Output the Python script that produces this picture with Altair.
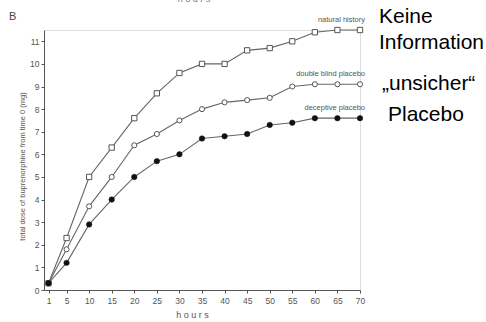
import altair as alt
import pandas as pd

hours = [1, 5, 10, 15, 20, 25, 30, 35, 40, 45, 50, 55, 60, 65, 70]
natural_history = [0.3, 2.3, 5.0, 6.3, 7.6, 8.7, 9.6, 10.0, 10.0, 10.6, 10.7, 11.0, 11.4, 11.5, 11.5]
double_blind = [0.3, 1.8, 3.7, 5.0, 6.4, 6.9, 7.5, 8.0, 8.3, 8.4, 8.5, 9.0, 9.1, 9.1, 9.1]
deceptive = [0.3, 1.2, 2.9, 4.0, 5.0, 5.7, 6.0, 6.7, 6.8, 6.9, 7.3, 7.4, 7.6, 7.6, 7.6]
series_names = ["natural history", "double blind placebo", "deceptive placebo"]
x_ticks = [1, 5, 10, 15, 20, 25, 30, 35, 40, 45, 50, 55, 60, 65, 70]
y_ticks = list(range(0, 12))

rows = []
for name, vals in zip(series_names, [natural_history, double_blind, deceptive]):
    for h, v in zip(hours, vals):
        rows.append({"hours": h, "dose": v, "series": name})
df = pd.DataFrame(rows)

AX = "#555555"
LINE = "#666666"

x_enc = alt.X("hours:Q", scale=alt.Scale(domain=[0, 70], nice=False),
              axis=alt.Axis(values=x_ticks, title="h o u r s", titleFontSize=9,
                            titleFontWeight="normal", titleColor=AX, titleX=148, titleY=24,
                            titleBaseline="middle", labelFontSize=8.5, labelColor=AX,
                            tickSize=3, labelPadding=3, domainColor=AX, tickColor=AX,
                            grid=False, labelFlush=False, labelOverlap=False))
y_enc = alt.Y("dose:Q", scale=alt.Scale(domain=[0, 11.5], nice=False),
              axis=alt.Axis(values=y_ticks, title="total dose of buprenorphine from time 0 (mg)",
                            titleFontSize=7.5, titleFontWeight="normal", titleColor=AX,
                            titleX=-22, titleY=136, titleAngle=-90, titleAlign="center",
                            titleBaseline="middle", labelFontSize=8.5, labelColor=AX,
                            tickSize=3, labelPadding=2, domainColor=AX, tickColor=AX,
                            grid=False, labelOverlap=False))

lines = alt.Chart(df).mark_line(color=LINE, strokeWidth=1.1).encode(
    x=x_enc, y=y_enc, detail="series:N")

sq = alt.Chart(df[df.series == "natural history"]).mark_point(
    shape="square", filled=True, fill="white", stroke="#555555", strokeWidth=1, size=28, opacity=1
).encode(x=x_enc, y=y_enc)

circ = alt.Chart(df[df.series == "double blind placebo"]).mark_point(
    shape="circle", filled=True, fill="white", stroke="#555555", strokeWidth=1, size=26, opacity=1
).encode(x=x_enc, y=y_enc)

fil = alt.Chart(df[df.series == "deceptive placebo"]).mark_point(
    shape="circle", filled=True, fill="#111111", stroke="#111111", strokeWidth=0.5, size=30, opacity=1
).encode(x=x_enc, y=y_enc)

lab_df = pd.DataFrame({"hours": [70, 70, 70], "dose": [natural_history[-1], double_blind[-1], deceptive[-1]],
                       "series": series_names})
labels = alt.Chart(lab_df).mark_text(align="right", baseline="bottom", dy=-6, dx=5,
                                     fontSize=7.5).encode(
    x=x_enc, y=y_enc, text="series:N", color=alt.value("#555555"))

def t(txt, px, py, size, align="left", color="black", baseline="alphabetic", weight="normal"):
    return alt.Chart(pd.DataFrame({"t": [txt]})).mark_text(
        align=align, baseline=baseline, fontSize=size, font="Liberation Sans",
        fontWeight=weight
    ).encode(x=alt.value(px - 44), y=alt.value(py - 30), text="t:N", color=alt.value(color))

extra = [
    t("Keine", 379, 23, 21),
    t("Information", 379, 49, 21),
    t("\u201eunsicher\u201c", 382, 90, 21),
    t("Placebo", 388, 121, 21),
    t("B", 9, 17, 11, color="#444444", baseline="middle"),
    t("h o u r s", 194, 4, 9, align="center", color="#777777", baseline="bottom"),
]

chart = alt.layer(lines, sq, circ, fil, labels, *extra).properties(
    width=316, height=260,
    autosize=alt.AutoSizeParams(type="none"),
    padding={"left": 44, "top": 30, "right": 126, "bottom": 32},
).configure_view(stroke=None).configure(background="white", font="Liberation Sans")

chart.save("out.html", embed_options={"renderer": "svg", "actions": False})
